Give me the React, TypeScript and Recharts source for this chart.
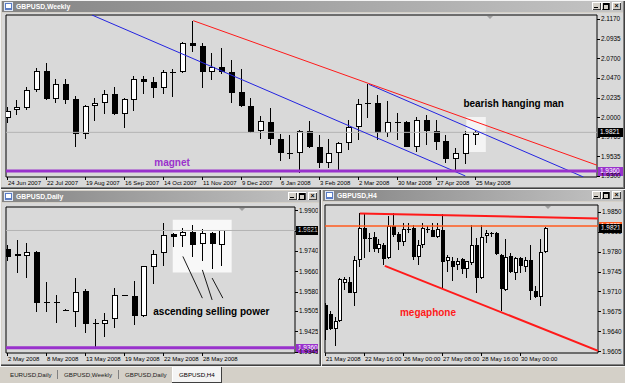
import React from 'react';
import { ComposedChart, Bar, XAxis, YAxis, ReferenceLine, ReferenceArea, ReferenceDot } from 'recharts';

const FONT = '"Liberation Sans", Arial, sans-serif';
const AX = 6.4;
const AXD = 6.0;

// ---------- GBPUSD, Weekly ----------
const weeklyTickIndex = [0, 4, 8, 12, 16, 20, 24, 28, 32, 36, 40, 44, 48];
const weeklyTickLabels = ['24 Jun 2007', '22 Jul 2007', '19 Aug 2007', '16 Sep 2007', '14 Oct 2007', '11 Nov 2007', '9 Dec 2007', '6 Jan 2008', '3 Feb 2008', '2 Mar 2008', '30 Mar 2008', '27 Apr 2008', '25 May 2008'];
const weeklyPriceTicks = [2.117, 2.0935, 2.07, 2.047, 2.0235, 2.0, 1.9765, 1.9535, 1.93];
const weeklyOpen = [1.9988, 2.0083, 2.0114, 2.0325, 2.0551, 2.0218, 2.0393, 2.0214, 1.9805, 2.0135, 2.0167, 2.0274, 2.0039, 2.0206, 2.0452, 2.0417, 2.0345, 2.0536, 2.0536, 2.0888, 2.0852, 2.0536, 2.0595, 2.0543, 2.0305, 2.0138, 1.9837, 1.9948, 1.9742, 1.9572, 1.9572, 1.9834, 1.965, 1.9453, 1.9572, 1.9691, 1.9881, 2.017, 2.0167, 1.981, 1.9948, 1.9948, 1.965, 1.9968, 1.9841, 1.9722, 1.95, 1.956, 1.9793];
const weeklyHigh = [2.0123, 2.0206, 2.0364, 2.0583, 2.065, 2.0456, 2.0456, 2.0254, 2.0143, 2.0233, 2.0325, 2.0361, 2.0226, 2.0492, 2.0492, 2.0483, 2.0563, 2.0571, 2.09, 2.115, 2.0881, 2.0762, 2.0828, 2.0678, 2.0578, 2.0226, 2.0019, 2.0107, 1.9801, 1.979, 1.9849, 1.996, 1.979, 1.9738, 1.971, 1.9968, 2.0218, 2.0393, 2.0266, 2.0194, 2.0048, 1.9955, 2.0, 2.0028, 1.9968, 1.979, 1.9636, 1.9841, 1.9841];
const weeklyLow = [1.9929, 2.0028, 2.0087, 2.0305, 2.021, 2.0174, 2.0155, 1.965, 1.9738, 1.9956, 2.0039, 2.003, 1.9876, 2.0079, 2.0274, 2.0233, 2.0277, 2.0245, 2.0527, 2.0774, 2.0345, 2.0444, 2.0515, 2.0174, 2.0126, 1.9815, 1.9746, 1.9671, 1.9484, 1.95, 1.9334, 1.9635, 1.9393, 1.9393, 1.9373, 1.9611, 1.973, 1.9988, 1.973, 1.9762, 1.973, 1.9645, 1.9591, 1.9671, 1.9611, 1.946, 1.9365, 1.9444, 1.9671];
const weeklyClose = [2.0075, 2.0119, 2.0325, 2.0551, 2.0218, 2.0393, 2.0206, 1.9805, 2.0138, 2.0174, 2.0274, 2.0039, 2.0214, 2.0452, 2.0417, 2.0345, 2.0539, 2.0543, 2.0888, 2.0852, 2.0536, 2.0595, 2.0536, 2.0293, 2.0135, 1.9825, 1.9956, 1.9738, 1.9572, 1.9575, 1.9841, 1.965, 1.9453, 1.9572, 1.9691, 1.9881, 2.0155, 2.0158, 1.981, 1.9948, 1.995, 1.965, 1.9968, 1.9841, 1.971, 1.95, 1.9572, 1.9801, 1.9821];
const weeklyRedLine = [{ x: 19, y: 2.115 }, { x: 60.4, y: 1.943 }];
const weeklyBlueUpper = [{ x: 37, y: 2.0393 }, { x: 59, y: 1.929 }];
const weeklyBlueLower = [{ x: 8.6, y: 2.1218 }, { x: 46.9, y: 1.9302 }];
const weeklyBox = { x1: 47, x2: 49, y1: 1.9587, y2: 2.0004 };

// ---------- GBPUSD, Daily ----------
const dailyTickIndex = [0, 4, 8, 12, 16, 20];
const dailyTickLabels = ['2 May 2008', '8 May 2008', '13 May 2008', '19 May 2008', '22 May 2008', '28 May 2008'];
const dailyPriceTicks = [1.99, 1.982, 1.974, 1.966, 1.958, 1.9505, 1.9425, 1.9345];
const dailyOpen = [1.9748, 1.9728, 1.9721, 1.9737, 1.9535, 1.9539, 1.9508, 1.9502, 1.9584, 1.9455, 1.9454, 1.9472, 1.9568, 1.9564, 1.9483, 1.9679, 1.9732, 1.9807, 1.98, 1.9817, 1.9769, 1.9813, 1.9765];
const dailyHigh = [1.9765, 1.9784, 1.9771, 1.974, 1.9618, 1.9567, 1.9514, 1.9634, 1.959, 1.9472, 1.9498, 1.9594, 1.9569, 1.9624, 1.9683, 1.9745, 1.985, 1.9813, 1.983, 1.9844, 1.9826, 1.9817, 1.9823];
const dailyLow = [1.9703, 1.9653, 1.9634, 1.9502, 1.9502, 1.9456, 1.9503, 1.9443, 1.9417, 1.9362, 1.9404, 1.9437, 1.9566, 1.945, 1.948, 1.9611, 1.9682, 1.9756, 1.9756, 1.9715, 1.9703, 1.967, 1.9682];
const dailyClose = [1.9715, 1.9719, 1.9737, 1.9535, 1.954, 1.9535, 1.9507, 1.958, 1.9454, 1.9456, 1.9469, 1.9568, 1.9568, 1.9485, 1.9682, 1.9728, 1.9802, 1.9795, 1.9817, 1.9765, 1.9813, 1.9767, 1.9821];
const dailyPointers = [
  [{ x: 17.9, y: 1.9719 }, { x: 19.9, y: 1.9555 }],
  [{ x: 19.9, y: 1.9666 }, { x: 20.9, y: 1.9548 }],
  [{ x: 20.9, y: 1.9634 }, { x: 22.0, y: 1.9555 }],
];
const dailyBox = { x1: 16.86, x2: 22.9, y1: 1.9656, y2: 1.9863 };

// ---------- GBPUSD, H4 ----------
const h4TickIndex = [0, 8, 16, 24, 32, 40];
const h4TickLabels = ['21 May 2008', '22 May 16:00', '26 May 00:00', '27 May 08:00', '28 May 16:00', '30 May 00:00'];
const h4PriceTicks = [1.985, 1.9815, 1.978, 1.9745, 1.971, 1.9675, 1.964, 1.9605];
const h4Open = [1.9687, 1.9671, 1.9644, 1.9658, 1.9725, 1.9726, 1.9707, 1.9765, 1.9821, 1.9803, 1.9806, 1.9785, 1.9792, 1.9768, 1.9824, 1.981, 1.9797, 1.9817, 1.9821, 1.9771, 1.9792, 1.982, 1.9818, 1.9806, 1.9818, 1.9764, 1.9764, 1.9757, 1.9767, 1.9749, 1.976, 1.9792, 1.9733, 1.9807, 1.9812, 1.9812, 1.9774, 1.9713, 1.9772, 1.9743, 1.9768, 1.9753, 1.9765, 1.9711, 1.97, 1.978];
const h4High = [1.969, 1.9675, 1.9666, 1.9733, 1.9736, 1.9735, 1.9772, 1.9847, 1.9847, 1.9812, 1.9815, 1.9802, 1.9795, 1.9842, 1.9848, 1.9815, 1.983, 1.983, 1.9827, 1.98, 1.9831, 1.9824, 1.983, 1.983, 1.9846, 1.9774, 1.9771, 1.9768, 1.9768, 1.9764, 1.9827, 1.9803, 1.9827, 1.9818, 1.9815, 1.9815, 1.9775, 1.9802, 1.9777, 1.9771, 1.9771, 1.9771, 1.9792, 1.9719, 1.9802, 1.9823];
const h4Low = [1.9625, 1.9643, 1.9614, 1.9656, 1.9713, 1.9707, 1.9684, 1.9753, 1.9768, 1.978, 1.978, 1.9778, 1.9756, 1.9767, 1.9806, 1.9783, 1.9789, 1.9812, 1.9765, 1.9757, 1.9786, 1.9813, 1.9805, 1.9803, 1.9716, 1.9745, 1.9729, 1.9748, 1.9741, 1.9733, 1.9757, 1.9707, 1.9732, 1.9795, 1.9806, 1.9774, 1.9675, 1.971, 1.9743, 1.973, 1.9742, 1.9745, 1.9695, 1.9698, 1.9685, 1.9778];
const h4Close = [1.9643, 1.9644, 1.9658, 1.9732, 1.9732, 1.9708, 1.9765, 1.9821, 1.9802, 1.9802, 1.9784, 1.9793, 1.9767, 1.9824, 1.9809, 1.9796, 1.9819, 1.982, 1.9771, 1.9792, 1.9821, 1.9819, 1.9806, 1.9819, 1.9761, 1.9771, 1.9753, 1.9764, 1.9749, 1.9763, 1.9792, 1.9733, 1.9806, 1.9812, 1.9811, 1.9775, 1.9714, 1.9771, 1.9745, 1.9768, 1.9754, 1.9765, 1.9711, 1.97, 1.978, 1.9821];
const h4TopLine = [{ x: 7, y: 1.9847 }, { x: 55.75, y: 1.9838 }];
const h4BottomLine = [{ x: 12.1, y: 1.9755 }, { x: 55.75, y: 1.9606 }];
const h4AlertLevel = 1.9825;

const currentPrice = 1.9821;
const magnetLevel = 1.936;

const MAGNET = '#9932cc';
const BLUE = '#2323e0';
const RED = '#ff1a1a';

const buildRows = (o: number[], h: number[], l: number[], c: number[]) =>
  o.map((v, i) => ({ i, open: v, high: h[i], low: l[i], close: c[i], range: [l[i], h[i]] }));

const weeklyRows = buildRows(weeklyOpen, weeklyHigh, weeklyLow, weeklyClose);
const dailyRows = buildRows(dailyOpen, dailyHigh, dailyLow, dailyClose);
const h4Rows = buildRows(h4Open, h4High, h4Low, h4Close);

// candle drawn from the [low, high] bar the library lays out
const candleShape = (bodyW: number) => (props: any) => {
  const { x, y, width, height, payload } = props;
  if (!payload || x == null || y == null) return <g />;
  const top = Math.min(y, y + height);
  const bottom = Math.max(y, y + height);
  const span = payload.high - payload.low;
  const k = span > 0 ? (bottom - top) / span : 0;
  const toY = (v: number) => top + (payload.high - v) * k;
  const cx = Math.round(x + width / 2);
  const yo = toY(payload.open);
  const yc = toY(payload.close);
  const b0 = Math.round(Math.min(yo, yc));
  const b1 = Math.round(Math.max(yo, yc));
  const bull = payload.close >= payload.open;
  const t = Math.round(top);
  const b = Math.round(bottom);
  return (
    <g>
      <rect x={cx - 1} y={t} width={1} height={Math.max(1, b - t)} fill="#000" />
      {b1 - b0 <= 1 ? (
        <rect x={cx - bodyW / 2} y={b0} width={bodyW} height={1} fill="#000" />
      ) : (
        <rect x={cx - bodyW / 2 + 0.5} y={b0 + 0.5} width={bodyW - 1} height={b1 - b0 - 1} fill={bull ? '#fff' : '#000'} stroke="#000" strokeWidth={1} />
      )}
    </g>
  );
};

const dateTick = (idx: number[], labels: string[]) => (p: any) => {
  const { x, y, payload } = p;
  const label = labels[idx.indexOf(payload.value)];
  const tx = Math.round(x);
  return (
    <g>
      <line x1={tx - 0.5} x2={tx - 0.5} y1={y} y2={y + 3} stroke="#000" />
      <text x={tx} y={y + 8} fontSize={AXD} fontFamily={FONT} fill="#000">{label}</text>
    </g>
  );
};

const priceTick = (p: any) => {
  const { x, y, payload } = p;
  const ty = Math.round(y) + 0.5;
  return (
    <g>
      <line x1={x} x2={x + 3} y1={ty} y2={ty} stroke="#000" />
      <text x={x + 4} y={y + 2.3} fontSize={AX} fontFamily={FONT} fill="#000">{Number(payload.value).toFixed(4)}</text>
    </g>
  );
};

const priceTag = (value: number, bg: string, w: number) => (p: any) => {
  const vb = p.viewBox || {};
  const x = Math.round(vb.x + vb.width) + 1;
  const y = Math.round(vb.y);
  return (
    <g>
      <rect x={x} y={y - 4} width={w} height={9} fill={bg} />
      <text x={x + 2} y={y + 2.4} fill="#fff" fontSize={AX} fontFamily={FONT}>{value.toFixed(4)}</text>
    </g>
  );
};

const note = (text: string, color: string) => (p: any) => {
  const vb = p.viewBox || {};
  return (
    <text x={vb.x} y={vb.y} fill={color} fontSize={10} fontWeight="bold" fontFamily={FONT}>{text}</text>
  );
};

const TitleBar = ({ left, top, width, title }: { left: number; top: number; width: number; title: string }) => {
  const btn = (l: number, glyph: React.ReactNode) => (
    <div style={{ position: 'absolute', left: l, top: 1, width: 9, height: 8, background: '#d4d0c8', boxShadow: 'inset 1px 1px 0 #fff, inset -1px -1px 0 #404040', fontSize: 7, lineHeight: '8px', textAlign: 'center', color: '#000', fontWeight: 'bold' }}>{glyph}</div>
  );
  return (
    <div style={{ position: 'absolute', left, top, width, height: 11, background: 'linear-gradient(90deg, #848484, #c4c4c4)' }}>
      <div style={{ position: 'absolute', left: 2, top: 1, width: 9, height: 9, background: '#5a7cc4', boxShadow: 'inset 0 0 0 1px #dfe8f7' }}>
        <div style={{ position: 'absolute', left: 2, top: 2, width: 5, height: 4, background: '#fff' }} />
      </div>
      <div style={{ position: 'absolute', left: 14, top: 0, color: '#fff', font: `bold 6.8px ${FONT}`, lineHeight: '11px', whiteSpace: 'nowrap' }}>{title}</div>
      {btn(width - 31, <div style={{ position: 'absolute', left: 2, top: 5, width: 4, height: 1, background: '#000' }} />)}
      {btn(width - 22, <div style={{ position: 'absolute', left: 2, top: 1, width: 4, height: 4, border: '1px solid #000', borderTopWidth: 2 }} />)}
      {btn(width - 11, '×')}
    </div>
  );
};

const frameStyle = (left: number, top: number, width: number, height: number): React.CSSProperties => ({
  position: 'absolute', left, top, width, height, background: '#d4d0c8',
  boxShadow: 'inset 1px 1px 0 #f4f4f4, inset -1px -1px 0 #404040, inset -2px -2px 0 #808080',
});

const client = (left: number, top: number, width: number, height: number): React.CSSProperties => ({
  position: 'absolute', left, top, width, height, background: '#d9d9d9',
});

// small grey chart-shift marker at the top of each plot
const shiftMark = (left: number, top: number): React.CSSProperties => ({
  position: 'absolute', left, top, width: 0, height: 0,
  borderLeft: '3px solid transparent', borderRight: '3px solid transparent', borderTop: '3px solid #a0a0a0',
});

const WeeklyChart = () => {
  const xd: [number, number] = [-0.2, 60.4];
  const yd: [number, number] = [1.92897, 2.12175];
  return (
    <ComposedChart width={625} height={174} data={weeklyRows} margin={{ top: 1, right: 0, bottom: 0, left: 6 }}>
      <XAxis dataKey="i" type="number" domain={xd} allowDataOverflow ticks={weeklyTickIndex} interval={0} height={11} tickSize={0} tickMargin={0} axisLine={false} tickLine={false} tick={dateTick(weeklyTickIndex, weeklyTickLabels)} />
      <YAxis orientation="right" type="number" domain={yd} allowDataOverflow ticks={weeklyPriceTicks} interval={0} width={28} tickSize={0} tickMargin={0} axisLine={false} tickLine={false} tick={priceTick} />
      <ReferenceArea x1={weeklyBox.x1} x2={weeklyBox.x2} y1={weeklyBox.y1} y2={weeklyBox.y2} fill="#f4f4f4" fillOpacity={1} stroke="none" />
      <ReferenceLine y={currentPrice} stroke="#b4b4b4" label={priceTag(currentPrice, '#000', 25)} />
      <Bar dataKey="range" barSize={3} shape={candleShape(6)} isAnimationActive={false} />
      <ReferenceLine segment={weeklyBlueLower} stroke={BLUE} ifOverflow="hidden" />
      <ReferenceLine segment={weeklyBlueUpper} stroke={BLUE} ifOverflow="hidden" />
      <ReferenceLine segment={weeklyRedLine} stroke={RED} ifOverflow="hidden" />
      <ReferenceLine y={magnetLevel} stroke={MAGNET} strokeWidth={3} label={priceTag(magnetLevel, MAGNET, 25)} />
      <ReferenceDot x={15} y={1.9415} r={0} fill="none" stroke="none" label={note('magnet', MAGNET)} />
      <ReferenceDot x={46.7} y={2.0127} r={0} fill="none" stroke="none" label={note('bearish hanging man', '#000')} />
      <ReferenceArea x1={xd[0]} x2={xd[1]} y1={yd[0]} y2={yd[1]} fill="none" stroke="#000" ifOverflow="visible" />
    </ComposedChart>
  );
};

const DailyChart = () => {
  const xd: [number, number] = [-0.24, 29.4];
  const yd: [number, number] = [1.93393, 1.99134];
  return (
    <ComposedChart width={318} height={160} data={dailyRows} margin={{ top: 3, right: 0, bottom: 0, left: 6 }}>
      <XAxis dataKey="i" type="number" domain={xd} allowDataOverflow ticks={dailyTickIndex} interval={0} height={11} tickSize={0} tickMargin={0} axisLine={false} tickLine={false} tick={dateTick(dailyTickIndex, dailyTickLabels)} />
      <YAxis orientation="right" type="number" domain={yd} allowDataOverflow ticks={dailyPriceTicks} interval={0} width={23} tickSize={0} tickMargin={0} axisLine={false} tickLine={false} tick={priceTick} />
      <ReferenceArea x1={dailyBox.x1} x2={dailyBox.x2} y1={dailyBox.y1} y2={dailyBox.y2} fill="#f8f8f8" fillOpacity={1} stroke="none" />
      <ReferenceLine y={currentPrice} stroke="#b4b4b4" label={priceTag(currentPrice, '#000', 22)} />
      <Bar dataKey="range" barSize={3} shape={candleShape(6)} isAnimationActive={false} />
      {dailyPointers.map((seg, n) => (
        <ReferenceLine key={n} segment={seg} stroke="#1a1a1a" ifOverflow="hidden" />
      ))}
      <ReferenceLine y={magnetLevel} stroke={MAGNET} strokeWidth={3} label={priceTag(magnetLevel, MAGNET, 22)} />
      <ReferenceDot x={14.87} y={1.9489} r={0} fill="none" stroke="none" label={note('ascending selling power', '#000')} />
      <ReferenceArea x1={xd[0]} x2={xd[1]} y1={yd[0]} y2={yd[1]} fill="none" stroke="#000" ifOverflow="visible" />
    </ComposedChart>
  );
};

const H4Chart = () => {
  const xd: [number, number] = [-0.14, 55.75];
  const yd: [number, number] = [1.96021, 1.98617];
  return (
    <ComposedChart width={303} height={160} data={h4Rows} margin={{ top: 1, right: 0, bottom: 0, left: 5 }}>
      <XAxis dataKey="i" type="number" domain={xd} allowDataOverflow ticks={h4TickIndex} interval={0} height={11} tickSize={0} tickMargin={0} axisLine={false} tickLine={false} tick={dateTick(h4TickIndex, h4TickLabels)} />
      <YAxis orientation="right" type="number" domain={yd} allowDataOverflow ticks={h4PriceTicks} interval={0} width={25} tickSize={0} tickMargin={0} axisLine={false} tickLine={false} tick={priceTick} />
      <Bar dataKey="range" barSize={3} shape={candleShape(4)} isAnimationActive={false} />
      <ReferenceLine y={h4AlertLevel} stroke="#ff5a1e" strokeWidth={1.5} label={priceTag(h4AlertLevel, '#ff5a1e', 23)} />
      <ReferenceLine y={currentPrice} stroke="none" label={priceTag(currentPrice, '#000', 23)} />
      <ReferenceLine segment={h4TopLine} stroke={RED} strokeWidth={2} ifOverflow="hidden" />
      <ReferenceLine segment={h4BottomLine} stroke={RED} strokeWidth={2} ifOverflow="hidden" />
      <ReferenceDot x={15.2} y={1.9667} r={0} fill="none" stroke="none" label={note('megaphone', RED)} />
      <ReferenceArea x1={xd[0]} x2={xd[1]} y1={yd[0]} y2={yd[1]} fill="none" stroke="#000" ifOverflow="visible" />
    </ComposedChart>
  );
};

const tabs = [
  { label: 'EURUSD,Daily', x: 10 },
  { label: 'GBPUSD,Weekly', x: 64 },
  { label: 'GBPUSD,Daily', x: 125 },
];

export default function App() {
  return (
    <div style={{ position: 'fixed', left: 0, top: 0, width: 625, height: 383, background: '#d4d0c8', overflow: 'hidden', fontFamily: FONT }}>
      {/* weekly window */}
      <div style={frameStyle(0, 0, 625, 189)} />
      <TitleBar left={2} top={1} width={621} title="GBPUSD,Weekly" />
      <div style={client(2, 13, 621, 174)} />
      <div style={{ position: 'absolute', left: 0, top: 14 }}>
        <WeeklyChart />
      </div>
      <div style={shiftMark(487, 16)} />

      {/* daily window */}
      <div style={frameStyle(0, 189, 321, 177)} />
      <TitleBar left={2} top={191} width={317} title="GBPUSD,Daily" />
      <div style={client(2, 203, 317, 161)} />
      <div style={{ position: 'absolute', left: 0, top: 204 }}>
        <DailyChart />
      </div>
      <div style={shiftMark(239, 208)} />

      {/* H4 window */}
      <div style={frameStyle(321, 189, 304, 177)} />
      <TitleBar left={323} top={190} width={300} title="GBPUSD,H4" />
      <div style={client(323, 202, 300, 162)} />
      <div style={{ position: 'absolute', left: 320, top: 204 }}>
        <H4Chart />
      </div>
      <div style={shiftMark(545, 206)} />

      {/* tab strip */}
      <div style={{ position: 'absolute', left: 0, top: 366, width: 625, height: 17, background: '#d4d0c8', borderTop: '1px solid #f4f4f4' }}>
        {tabs.map((t, n) => (
          <React.Fragment key={t.label}>
            <div style={{ position: 'absolute', left: t.x, top: 4, fontSize: 6.2, color: '#202020', whiteSpace: 'nowrap' }}>{t.label}</div>
            {n > 0 && <div style={{ position: 'absolute', left: t.x - 7, top: 3, width: 1, height: 9, background: '#808080' }} />}
          </React.Fragment>
        ))}
        <div style={{ position: 'absolute', left: 172, top: 0, width: 50, height: 16, background: '#f4f4f4', boxShadow: 'inset -1px -1px 0 #404040, inset 1px 0 0 #fff' }}>
          <div style={{ position: 'absolute', left: 7, top: 4, fontSize: 6.2, color: '#000', whiteSpace: 'nowrap' }}>GBPUSD,H4</div>
        </div>
      </div>
    </div>
  );
}
